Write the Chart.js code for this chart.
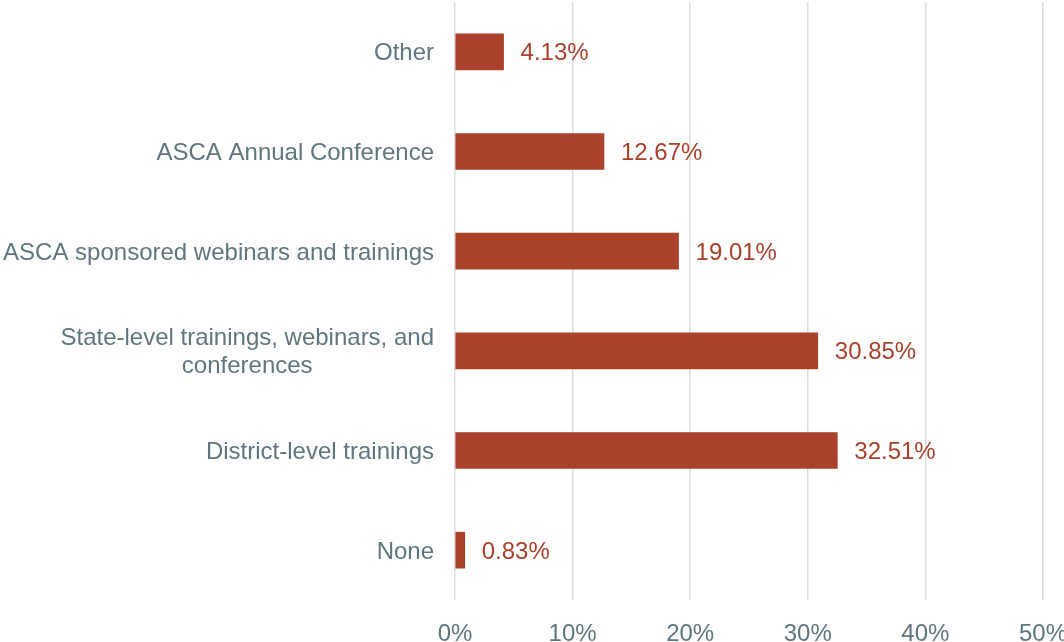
<!DOCTYPE html>
<html>
<head>
<meta charset="utf-8">
<script src="https://cdn.jsdelivr.net/npm/chart.js@4/dist/chart.umd.min.js"></script>
<style>
  html, body { margin: 0; padding: 0; background: #fff; overflow: hidden; }
  #wrap { width: 1087px; height: 642px; position: relative; }
</style>
</head>
<body>
<div id="wrap"><canvas id="chart"></canvas></div>
<script>
// categories, top to bottom
const categories = [
    'Other',
    'ASCA Annual Conference',
    'ASCA sponsored webinars and trainings',
    ['State-level trainings, webinars, and', 'conferences'],
    'District-level trainings',
    'None'
];
const shares = [4.13, 12.67, 19.01, 30.85, 32.51, 0.83];
const xTicks = [0, 10, 20, 30, 40, 50];

const BAR = '#A9412B';
const LABEL = '#5F767E';
const FONT = "'Liberation Sans', Arial, sans-serif";

// category labels drawn by hand so the wrapped one is centred like the original
const categoryLabels = {
    id: 'categoryLabels',
    afterDraw(chart) {
        const ctx = chart.ctx;
        const y = chart.scales.y;
        const right = chart.chartArea.left - 21;
        ctx.save();
        ctx.font = '24px ' + FONT;
        ctx.fillStyle = LABEL;
        ctx.textBaseline = 'middle';
        chart.data.labels.forEach((lab, i) => {
            const lines = Array.isArray(lab) ? lab : [lab];
            const cy = y.getPixelForTick(i) + 2;
            const lh = 28;
            const maxW = Math.max(...lines.map(l => ctx.measureText(l).width));
            ctx.textAlign = 'center';
            lines.forEach((l, k) => {
                ctx.fillText(l, right - maxW / 2, cy + (k - (lines.length - 1) / 2) * lh);
            });
        });
        ctx.restore();
    }
};

// value labels to the right of each bar
const valueLabels = {
    id: 'valueLabels',
    afterDatasetsDraw(chart) {
        const ctx = chart.ctx;
        const meta = chart.getDatasetMeta(0);
        ctx.save();
        ctx.font = '24px ' + FONT;
        ctx.fillStyle = BAR;
        ctx.textAlign = 'left';
        ctx.textBaseline = 'middle';
        meta.data.forEach((bar, i) => {
            ctx.fillText(shares[i].toFixed(2) + '%', bar.x + 17, bar.y + 2);
        });
        ctx.restore();
    }
};

new Chart(document.getElementById('chart'), {
    type: 'bar',
    data: {
        labels: categories,
        datasets: [{
            data: shares,
            backgroundColor: BAR,
            barThickness: 36
        }]
    },
    options: {
        indexAxis: 'y',
        responsive: true,
        maintainAspectRatio: false,
        animation: false,
        layout: { padding: { top: 2 } },
        plugins: { legend: { display: false }, tooltip: { enabled: false } },
        scales: {
            x: {
                min: 0, max: 50,
                afterBuildTicks: s => { s.ticks = xTicks.map(v => ({ value: v })); },
                afterFit: s => { s.height = 42; },
                grid: { color: '#D9DEE1', lineWidth: 1.5, drawTicks: false },
                border: { display: false },
                ticks: {
                    padding: 20,
                    color: LABEL,
                    font: { family: FONT, size: 24 },
                    callback: v => v + '%'
                }
            },
            y: {
                afterFit: s => { s.width = 455; },
                grid: { display: false },
                border: { display: false },
                ticks: { display: false }
            }
        }
    },
    plugins: [categoryLabels, valueLabels]
});
</script>
</body>
</html>
